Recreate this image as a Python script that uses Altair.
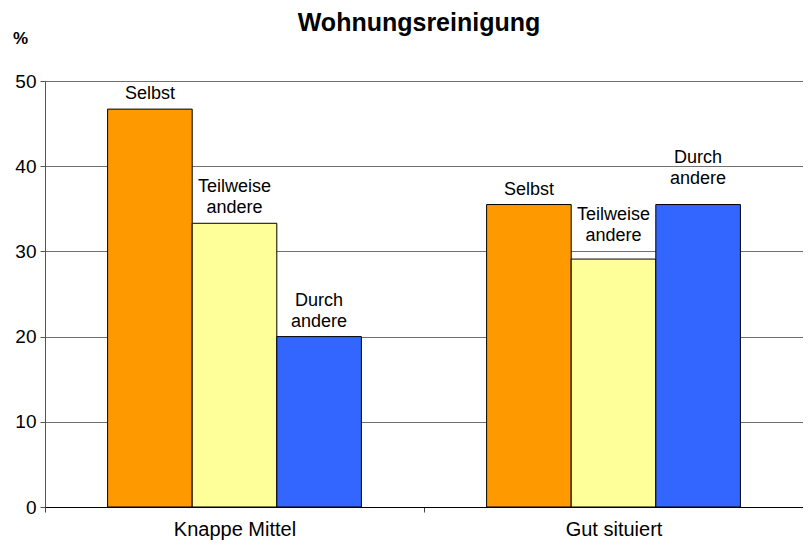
import altair as alt
import pandas as pd

title_text = "Wohnungsreinigung"
groups = ["Knappe Mittel", "Knappe Mittel", "Knappe Mittel", "Gut situiert", "Gut situiert", "Gut situiert"]
series = ["Selbst", "Teilweise andere", "Durch andere"] * 2
values = [46.7, 33.3, 20.0, 35.5, 29.1, 35.5]
label_top = ["", "Teilweise", "Durch"] * 2
label_bottom = ["Selbst", "andere", "andere"] * 2
colors = ["#FF9900", "#FFFF99", "#3366FF"]
series_order = ["Selbst", "Teilweise andere", "Durch andere"]
group_order = ["Knappe Mittel", "Gut situiert"]

df = pd.DataFrame({"group": groups, "series": series, "value": values,
                   "top": label_top, "bottom": label_bottom})
df["key"] = df["group"] + "|" + df["series"]

FONT = "Liberation Sans"
W, H = 758, 426

x = alt.X("group:N", sort=group_order, title=None,
          scale=alt.Scale(paddingInner=0, paddingOuter=0),
          axis=alt.Axis(labelAngle=0, labelFontSize=20, labelColor="black", labelPadding=7,
                        tickBand="extent", tickColor="#444444", tickSize=5,
                        domainColor="black", grid=False, labelFont=FONT))
xo = alt.XOffset("series:N", sort=series_order,
                 scale=alt.Scale(paddingInner=0, paddingOuter=0.74))
y = alt.Y("value:Q", scale=alt.Scale(domain=[0, 50]),
          axis=alt.Axis(values=[0, 10, 20, 30, 40, 50], title="%", titleAngle=0,
                        titleX=-25, titleY=-43, titleFontSize=17, titleFontWeight="bold",
                        titleAlign="center", titleBaseline="middle", titleFont=FONT,
                        labelFontSize=19, labelColor="black", labelFont=FONT,
                        labelPadding=4, tickColor="#555555", tickSize=5, domainColor="#555555",
                        gridColor="#707070", gridWidth=1))

base = alt.Chart(df)

bars = base.mark_bar(stroke="black", strokeWidth=1).encode(
    x=x, xOffset=xo, y=y,
    color=alt.Color("series:N", sort=series_order,
                    scale=alt.Scale(domain=series_order, range=colors), legend=None),
)

special = {"Gut situiert|Teilweise andere": 18, "Gut situiert|Durch andere": 21}


def labels(keys, gap, include):
    if include:
        cond = alt.FieldOneOfPredicate(field="key", oneOf=keys)
    else:
        cond = {"not": alt.FieldOneOfPredicate(field="key", oneOf=keys).to_dict()}
    layers = []
    for field, extra in (("bottom", 0), ("top", 21)):
        layers.append(
            base.transform_filter(cond).mark_text(
                baseline="alphabetic", dy=-(gap + extra), fontSize=18, font=FONT, color="black"
            ).encode(x=x, xOffset=xo, y=y, text=f"{field}:N")
        )
    return layers


text_layers = labels(list(special.keys()), 10, False)
text_layers += labels(["Gut situiert|Teilweise andere"], 18, True)
text_layers += labels(["Gut situiert|Durch andere"], 21, True)

title = alt.Chart(pd.DataFrame({"t": [title_text]})).mark_text(
    fontSize=25, fontWeight="bold", font=FONT, color="black",
    baseline="alphabetic", align="center",
).encode(x=alt.value(W / 2 - 5), y=alt.value(-50), text="t:N")

chart = alt.layer(bars, *text_layers, title).properties(
    width=W, height=H,
    padding={"left": 37, "top": 73, "right": 0, "bottom": 34},
    autosize=alt.AutoSizeParams(type="none"),
).configure_view(stroke="#808080", strokeWidth=1)

chart.save("out.html", embed_options={"renderer": "svg", "actions": False})
